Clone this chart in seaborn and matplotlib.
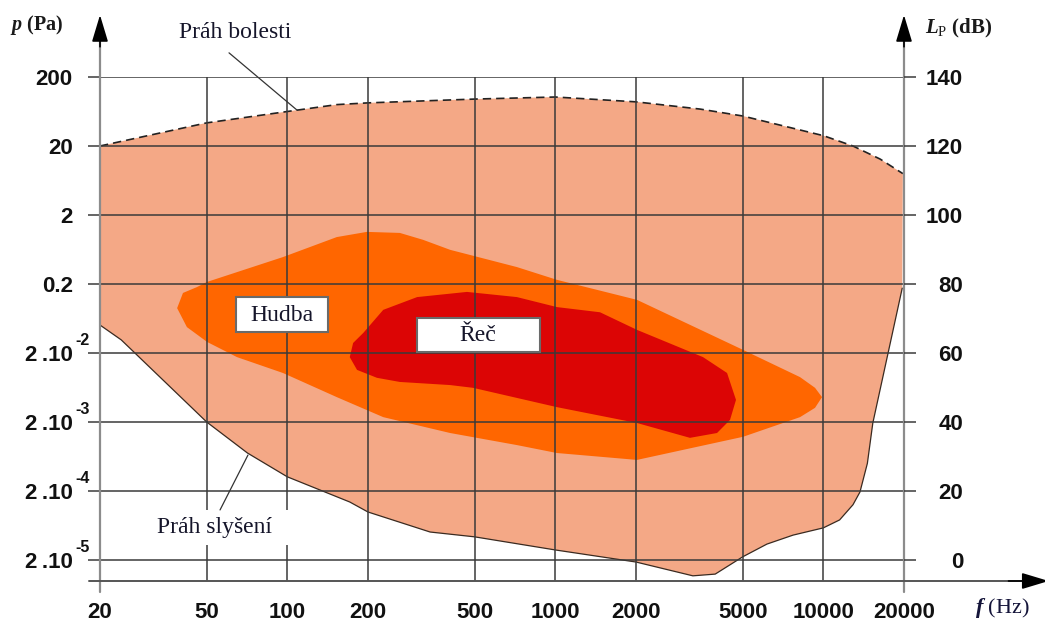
import matplotlib
matplotlib.use("Agg")
import matplotlib.pyplot as plt
import seaborn as sns
from matplotlib.patches import Rectangle

# ---------------------------------------------------------------
# data (frequency in Hz, level in dB)
# ---------------------------------------------------------------
freq_ticks = [20, 50, 100, 200, 500, 1000, 2000, 5000, 10000, 20000]
freq_labels = ["20", "50", "100", "200", "500", "1000", "2000", "5000", "10000", "20000"]
db_ticks = [0, 20, 40, 60, 80, 100, 120, 140]
db_labels = ["0", "20", "40", "60", "80", "100", "120", "140"]
pa_labels = ["2\u2009.10", "2\u2009.10", "2\u2009.10", "2\u2009.10", "0.2", "2", "20", "200"]
pa_exponents = ["-5", "-4", "-3", "-2", "", "", "", ""]

# práh bolesti (horní hranice)
pain_f = [20, 50, 100, 153, 200, 500, 1000, 2000, 3470, 5000, 10000, 12900, 16300, 19800]
pain_db = [120, 126.7, 130, 132, 132.5, 133.6, 134.2, 132.8, 130.7, 128.7, 123, 120, 116.2, 112]

# práh slyšení (dolní hranice)
hear_f = [20, 24, 50, 71, 100, 171, 200, 341, 500, 1000, 2000, 3260, 3950, 5000,
          6160, 7710, 10000, 11500, 12900, 13700, 14600, 15300, 19700]
hear_db = [68.1, 63.8, 40.0, 31.0, 24.1, 16.8, 13.9, 8.1, 6.7, 2.9, -0.6, -4.6, -4.1, 0.9,
           4.6, 7.2, 9.3, 11.6, 16, 19.7, 28, 39.7, 78.8]

# oblast hudby
music_f = [38.8, 40.8, 46.0, 50.2, 96.3, 153, 198, 263, 321, 405, 719, 1014, 2017, 5016,
           8186, 9312, 9886, 9312, 8186, 5016, 2017, 1014, 719, 405, 228, 153, 96.3, 64.9, 50.2, 42.2]
music_db = [73.0, 77.4, 79.1, 80.6, 87.8, 93.6, 95.1, 94.8, 92.8, 89.9, 84.9, 81.2, 75.4, 60.9,
            53.0, 49.9, 47.2, 44.1, 41.4, 35.7, 29.0, 31.0, 33.3, 36.8, 41.4, 47.2, 54.2, 58.8, 63.2, 67.5]

# oblast řeči
speech_f = [171, 176, 192, 228, 305, 468, 719, 1014, 1468, 2017, 3557, 4373, 4722, 4486,
            4012, 3180, 2017, 1014, 493, 405, 263, 216, 182]
speech_db = [58.8, 62.9, 65.8, 72.5, 76.2, 77.7, 76.2, 73.3, 71.8, 66.7, 58.8, 54.2, 46.4, 40.6,
             36.8, 35.4, 39.7, 44.3, 49.9, 50.7, 51.6, 52.8, 55.1]

# ---------------------------------------------------------------
sns.set_theme(style="white")
plt.rcParams["font.family"] = ["Liberation Serif", "DejaVu Serif"]
plt.rcParams["mathtext.fontset"] = "custom"
plt.rcParams["mathtext.rm"] = "Liberation Serif"
plt.rcParams["mathtext.it"] = "Liberation Serif:italic:bold"

W, H = 1045, 623
fig = plt.figure(figsize=(W / 100, H / 100), dpi=100, facecolor="white")
ax = fig.add_axes([100 / W, 42 / H, 804 / W, 504 / H])
ax.set_xscale("log")
ax.set_xlim(20, 20000)
ax.set_ylim(-6.1, 140)

C_HEAR = "#F4A886"
C_MUSIC = "#FF6600"
C_SPEECH = "#DC0505"
C_GRID = "#3a3a3a"
C_AXIS = "#8c8c8c"
C_TXT = "#15152a"
SANS = ["Liberation Sans", "DejaVu Sans"]

# plochy
area_f = pain_f + hear_f[::-1]
area_db = pain_db + hear_db[::-1]
ax.fill(area_f, area_db, color=C_HEAR, lw=0, zorder=1)
ax.fill(music_f, music_db, color=C_MUSIC, lw=0, zorder=1.2)
ax.fill(speech_f, speech_db, color=C_SPEECH, lw=0, zorder=1.4)

sns.lineplot(x=pain_f, y=pain_db, ax=ax, sort=False, estimator=None, color="#222222",
             lw=1.2, linestyle=(0, (5, 3)), zorder=2)
sns.lineplot(x=hear_f, y=hear_db, ax=ax, sort=False, estimator=None, color="#3a2a20",
             lw=0.9, zorder=2)

# mřížka a osy
ax.set_axisbelow(False)
ax.grid(True, color=C_GRID, lw=1.1)
for s in ax.spines.values():
    s.set_visible(False)
ax.set_xticks(freq_ticks)
ax.set_xticklabels(freq_labels)
ax.xaxis.set_minor_locator(matplotlib.ticker.NullLocator())
ax.set_yticks(db_ticks)
ax.set_yticklabels(pa_labels)
ax.tick_params(axis="x", direction="out", length=8, width=1.1, color=C_GRID, pad=7,
               labelsize=16)
ax.tick_params(axis="y", direction="out", length=8.6, width=1.1, color=C_GRID, pad=11,
               labelsize=16)
for lbl in ax.get_xticklabels() + ax.get_yticklabels():
    lbl.set_fontfamily(SANS)
    lbl.set_fontweight("bold")
    lbl.set_color("#111111")
ax.set_xlabel("")
ax.set_ylabel("")

# exponenty u tlaků
for db, e in zip(db_ticks, pa_exponents):
    if e:
        ax.annotate(e, xy=(0, db), xycoords=("axes fraction", "data"), xytext=(-17.5, 9),
                    textcoords="offset points", ha="left", va="center", fontsize=11.5,
                    fontweight="bold", family=SANS, color="#111111", annotation_clip=False)

ax2 = ax.twinx()
ax2.set_ylim(-6.1, 140)
ax2.set_yticks(db_ticks)
ax2.set_yticklabels(db_labels)
for s in ax2.spines.values():
    s.set_visible(False)
ax2.tick_params(axis="y", direction="out", length=8.6, width=1.1, color=C_GRID, pad=34,
                labelsize=16)
for lbl in ax2.get_yticklabels():
    lbl.set_horizontalalignment("right")
    lbl.set_fontfamily(SANS)
    lbl.set_fontweight("bold")
    lbl.set_color("#111111")
ax2.grid(False)

# osy se šipkami
tr = ax.transAxes
ax.plot([0, 0], [-0.022, 1.08], transform=tr, clip_on=False, color=C_AXIS, lw=1.6, zorder=3)
ax.plot([1, 1], [-0.022, 1.08], transform=tr, clip_on=False, color=C_AXIS, lw=1.6, zorder=3)
ax.plot([-0.014, 1.15], [0, 0], transform=tr, clip_on=False, color="#555555", lw=1.4, zorder=3)
head = dict(arrowstyle="-|>,head_length=1.66,head_width=0.5", color="black", lw=1.2,
            shrinkA=0, shrinkB=0, mutation_scale=10)
ax.annotate("", xy=(0, 1.123), xytext=(0, 1.06), xycoords=tr, textcoords=tr, arrowprops=head,
            annotation_clip=False)
ax.annotate("", xy=(1, 1.123), xytext=(1, 1.06), xycoords=tr, textcoords=tr, arrowprops=head,
            annotation_clip=False)
ax.annotate("", xy=(1.18, 0), xytext=(1.13, 0), xycoords=tr, textcoords=tr, arrowprops=head,
            annotation_clip=False)

# popisky os
fig.text(10 / W, 1 - 25 / H, r"$\mathit{p}$ (Pa)", ha="left", va="center", fontsize=14.5,
         fontweight="bold", color="#1a1a1a")
fig.text(925 / W, 1 - 28 / H, r"$\mathit{L}_\mathrm{P}$ (dB)", ha="left", va="center",
         fontsize=15, fontweight="bold", color="#1a1a1a")
fig.text(975 / W, 1 - 608 / H, r"$\mathit{f}$ (Hz)", ha="left", va="center", fontsize=16,
         color="#15153a")

# popisky oblastí
ax.text(63.8, 152.8, "Práh bolesti", ha="center", va="center", fontsize=17, color=C_TXT,
        clip_on=False)
ax.plot([60.6, 108.7], [147.0, 130.4], color="#333333", lw=0.9, clip_on=False, zorder=3)
ax.add_patch(Rectangle((30.7, 4.3), 104.1 - 30.7, 14.5 - 4.3, fc="white", ec="none", zorder=3))
ax.text(53.7, 9.3, "Práh slyšení", ha="center", va="center", fontsize=17, color=C_TXT,
        zorder=4)
ax.plot([56.1, 71.3], [14.5, 30.4], color="#333333", lw=0.9, zorder=5)

ax.add_patch(Rectangle((64.4, 66.1), 141.8 - 64.4, 76.2 - 66.1, fc="white", ec="#6a6a6a",
                       lw=1.5, zorder=4))
ax.text(95.5, 71.0, "Hudba", ha="center", va="center", fontsize=17, color=C_TXT, zorder=5)
ax.add_patch(Rectangle((304.7, 60.3), 876.8 - 304.7, 70.1 - 60.3, fc="white", ec="#6a6a6a",
                       lw=1.5, zorder=4))
ax.text(514.6, 65.2, "Řeč", ha="center", va="center", fontsize=17, color=C_TXT, zorder=5)

fig.savefig("out.png", dpi=100, facecolor="white")
